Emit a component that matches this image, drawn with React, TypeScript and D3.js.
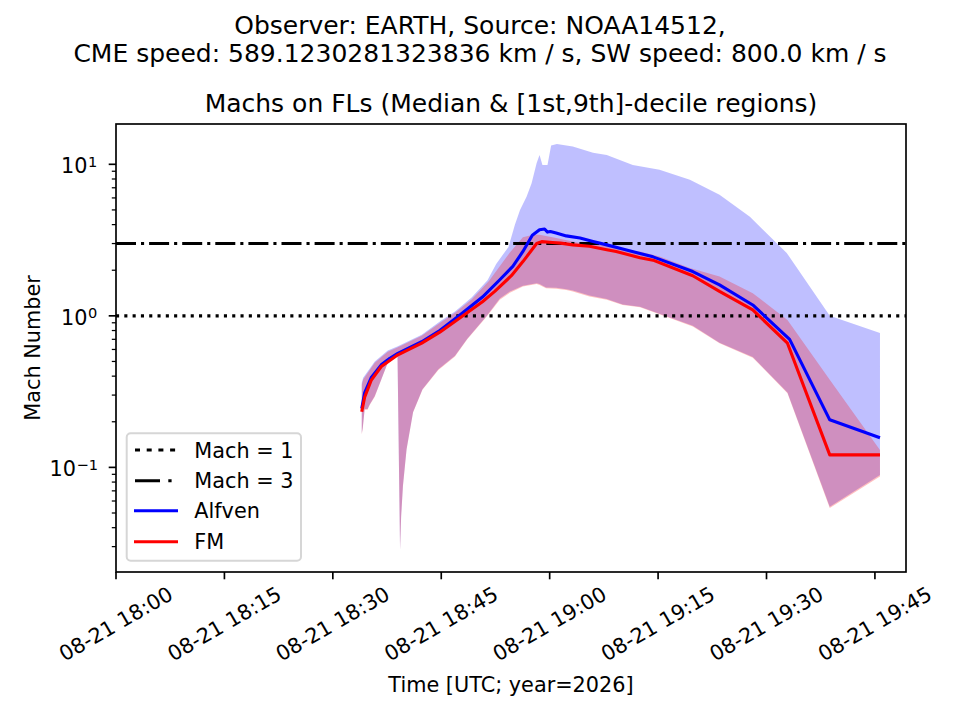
import React from "react";
import * as d3 from "d3";

// ---- data (minutes after 2026-08-21 18:00 UTC) ----
const T0 = Date.UTC(2026, 7, 21, 18, 0, 0);
const xLimitsMin = [0, 109.3];
const yLimits = [0.0204, 18.45];
const machLevels = [1, 3];

const alfvenMedTime = [34.0, 34.4, 35.3, 36.7, 37.9, 39.0, 42.3, 44.8, 47.45, 50.7, 53.1, 54.9, 56.3, 57.6, 58.6, 59.3, 59.7, 60.1, 60.9, 62.3, 64.2, 66.0, 67.9, 70.1, 72.5, 74.3, 79.8, 83.5, 88.1, 93.2, 98.75, 105.7];
const alfvenMed = [0.245, 0.31, 0.39, 0.475, 0.525, 0.565, 0.675, 0.8, 1.0, 1.33, 1.73, 2.12, 2.66, 3.4, 3.7, 3.74, 3.57, 3.6, 3.52, 3.37, 3.26, 3.1, 2.94, 2.76, 2.58, 2.45, 1.96, 1.6, 1.18, 0.7, 0.206, 0.157];

const fmMedTime = [34.0, 34.4, 35.3, 36.7, 39.0, 42.3, 44.8, 48.0, 50.7, 52.4, 54.7, 56.3, 58.2, 58.9, 60.4, 61.5, 63.2, 65.5, 67.9, 69.2, 72.5, 74.3, 79.8, 83.5, 88.1, 92.9, 98.75, 105.7];
const fmMed = [0.233, 0.29, 0.375, 0.463, 0.553, 0.66, 0.78, 1.0, 1.24, 1.45, 1.84, 2.28, 3.0, 3.09, 3.05, 3.02, 2.94, 2.88, 2.73, 2.66, 2.42, 2.33, 1.84, 1.45, 1.095, 0.66, 0.121, 0.121];

const alfvenUpTime = [34.0, 34.2, 35.8, 37.6, 39.0, 42.3, 45.0, 46.9, 49.2, 51.4, 52.6, 54.3, 55.2, 55.9, 56.8, 57.5, 58.2, 58.6, 59.0, 59.7, 60.2, 61.0, 63.2, 66.0, 67.9, 71.5, 75.2, 79.4, 83.5, 87.7, 92.8, 98.75, 105.7];
const alfvenUp = [0.36, 0.39, 0.5, 0.59, 0.63, 0.75, 0.93, 1.07, 1.32, 1.72, 2.2, 2.85, 4.0, 5.0, 6.1, 7.5, 10.2, 11.5, 9.9, 9.9, 13.3, 13.6, 13.1, 11.9, 11.5, 9.9, 9.2, 7.9, 6.3, 4.5, 2.6, 1.0, 0.77];

const fmUpTime = [34.0, 34.2, 35.8, 37.6, 39.0, 42.3, 45.0, 46.9, 49.2, 51.6, 54.5, 56.3, 57.7, 58.6, 60.9, 63.2, 65.5, 67.9, 70.1, 72.5, 75.2, 79.4, 83.5, 88.1, 92.9, 98.75, 105.7];
const fmUp = [0.35, 0.38, 0.49, 0.58, 0.62, 0.74, 0.91, 1.05, 1.28, 1.7, 2.62, 3.3, 3.43, 3.43, 3.26, 3.09, 2.94, 2.94, 2.73, 2.66, 2.46, 2.07, 1.82, 1.41, 0.94, 0.378, 0.13];

const lowTime = [34.0, 34.14, 34.4, 34.8, 35.1, 35.8, 36.7, 37.5, 38.2, 38.95, 39.3, 39.45, 39.7, 40.2, 41.1, 42.4, 44.6, 46.9, 48.6, 51.3, 53.1, 54.5, 56.3, 58.2, 58.6, 59.5, 60.9, 62.3, 63.2, 65.5, 67.9, 70.1, 72.5, 74.8, 79.8, 83.5, 88.1, 92.9, 98.75, 105.7];
const alfvenLow = [0.168, 0.183, 0.243, 0.243, 0.26, 0.296, 0.38, 0.478, 0.528, 0.541, 0.0287, 0.048, 0.076, 0.132, 0.232, 0.328, 0.444, 0.545, 0.705, 1.0, 1.3, 1.45, 1.58, 1.64, 1.62, 1.54, 1.53, 1.5, 1.47, 1.36, 1.29, 1.19, 1.15, 1.05, 0.86, 0.665, 0.535, 0.312, 0.055, 0.089];
const fmLow = [0.165, 0.18, 0.24, 0.24, 0.258, 0.293, 0.378, 0.475, 0.526, 0.539, 0.0285, 0.047, 0.0747, 0.1305, 0.23, 0.325, 0.44, 0.54, 0.7, 0.99, 1.275, 1.42, 1.56, 1.62, 1.6, 1.52, 1.51, 1.48, 1.45, 1.34, 1.275, 1.18, 1.14, 1.04, 0.85, 0.66, 0.53, 0.309, 0.054, 0.087];

const legendLabels = ["Mach = 1", "Mach = 3", "Alfven", "FM"];

const FONT = "DejaVu Sans, Liberation Sans, sans-serif";

export default function App() {
  const W = 960, H = 720;
  const m = { left: 116, top: 124, right: 54, bottom: 148 };
  const iw = W - m.left - m.right;
  const ih = H - m.top - m.bottom;
  const toDate = (v: number) => new Date(T0 + v * 60000);

  const x = d3.scaleUtc().domain([toDate(xLimitsMin[0]), toDate(xLimitsMin[1])]).range([m.left, m.left + iw]);
  const y = d3.scaleLog().domain(yLimits).range([m.top + ih, m.top]);

  const zip = (t: number[], v: number[]) => t.map((tt, i) => [tt, v[i]] as [number, number]);
  const line = d3.line<[number, number]>().x((d) => x(toDate(d[0]))).y((d) => y(d[1]));
  const band = (tu: number[], vu: number[], tl: number[], vl: number[]) =>
    (line([...zip(tu, vu), ...zip(tl, vl).reverse()]) || "") + "Z";

  const xTicks = x.ticks(d3.utcMinute.every(15) as any);
  const fmt = d3.utcFormat("%m-%d %H:%M");
  const yAll = y.ticks();
  const isMajor = (v: number) => Math.abs(Math.log10(v) - Math.round(Math.log10(v))) < 1e-9;
  const yMajor = yAll.filter(isMajor);
  const yMinor = yAll.filter((v) => !isMajor(v));

  const lw = 3.1;
  const legY = [450, 480.7, 510.7, 541.7];

  return (
    <svg width={W} height={H} style={{ position: "absolute", left: 0, top: 0, background: "#fff" }} fontFamily={FONT}>
      <defs>
        <clipPath id="plotclip">
          <rect x={m.left} y={m.top} width={iw} height={ih} />
        </clipPath>
      </defs>
      <rect x={0} y={0} width={W} height={H} fill="#fff" />

      {/* titles */}
      <text x={480} y={33.5} textAnchor="middle" fontSize={25}>Observer: EARTH, Source: NOAA14512,</text>
      <text x={480} y={62} textAnchor="middle" fontSize={25}>CME speed: 589.1230281323836 km / s, SW speed: 800.0 km / s</text>
      <text x={m.left + iw / 2} y={112} textAnchor="middle" fontSize={25}>Machs on FLs (Median &amp; [1st,9th]-decile regions)</text>

      <g clipPath="url(#plotclip)">
        <path d={band(alfvenUpTime, alfvenUp, lowTime, alfvenLow)} fill="blue" fillOpacity={0.25} stroke="none" />
        <path d={band(fmUpTime, fmUp, lowTime, fmLow)} fill="red" fillOpacity={0.25} stroke="none" />
        {/* Mach reference lines */}
        <line x1={m.left} x2={m.left + iw} y1={y(machLevels[0])} y2={y(machLevels[0])} stroke="#000" strokeWidth={lw} strokeDasharray="3.1,5.2" />
        <line x1={m.left} x2={m.left + iw} y1={y(machLevels[1])} y2={y(machLevels[1])} stroke="#000" strokeWidth={lw} strokeDasharray="20,5,3.1,5" />
        <path d={line(zip(alfvenMedTime, alfvenMed)) || ""} fill="none" stroke="blue" strokeWidth={lw} strokeLinejoin="round" />
        <path d={line(zip(fmMedTime, fmMed)) || ""} fill="none" stroke="red" strokeWidth={lw} strokeLinejoin="round" />
      </g>

      {/* axes frame */}
      <rect x={m.left} y={m.top} width={iw} height={ih} fill="none" stroke="#000" strokeWidth={1.67} />

      {/* x ticks */}
      {xTicks.map((t, i) => (
        <g key={"xt" + i}>
          <line x1={x(t)} x2={x(t)} y1={m.top + ih} y2={m.top + ih + 7.3} stroke="#000" strokeWidth={1.67} />
          <text transform={`translate(${x(t)},${624}) rotate(-30)`} textAnchor="middle" dominantBaseline="central" fontSize={20.8}>
            {fmt(t)}
          </text>
        </g>
      ))}

      {/* y ticks */}
      {yMinor.map((v, i) => (
        <line key={"ym" + i} x1={m.left - 4.2} x2={m.left} y1={y(v)} y2={y(v)} stroke="#000" strokeWidth={1.25} />
      ))}
      {yMajor.map((v, i) => {
        const e = Math.round(Math.log10(v));
        const baseEnd = e < 0 ? 76 : 87.5;
        const yy = y(v);
        return (
          <g key={"yM" + i}>
            <line x1={m.left - 7.3} x2={m.left} y1={yy} y2={yy} stroke="#000" strokeWidth={1.67} />
            <text x={baseEnd} y={yy + 9} textAnchor="end" fontSize={20.8}>10</text>
            <text x={baseEnd + 0.5} y={yy + 2.5} textAnchor="start" fontSize={14.6}>{e < 0 ? "\u2212" + Math.abs(e) : String(e)}</text>
          </g>
        );
      })}

      {/* axis labels */}
      <text x={m.left + iw / 2} y={692} textAnchor="middle" fontSize={20.8}>Time [UTC; year=2026]</text>
      <text transform={`translate(40,${m.top + ih / 2}) rotate(-90)`} textAnchor="middle" fontSize={20.8}>Mach Number</text>

      {/* legend */}
      <g>
        <rect x={126.7} y={433.3} width={174.3} height={127.4} rx={4} ry={4} fill="#fff" fillOpacity={0.8} stroke="#d6d6d6" strokeWidth={2} />
        <line x1={135} x2={178} y1={legY[0]} y2={legY[0]} stroke="#000" strokeWidth={lw} strokeDasharray="5,6.7" />
        <line x1={135} x2={178} y1={legY[1]} y2={legY[1]} stroke="#000" strokeWidth={lw} strokeDasharray="25,8.3,3.3,8.3" />
        <line x1={134} x2={178} y1={legY[2]} y2={legY[2]} stroke="blue" strokeWidth={lw} />
        <line x1={134} x2={178} y1={legY[3]} y2={legY[3]} stroke="red" strokeWidth={lw} />
        {legendLabels.map((l, i) => (
          <text key={"lg" + i} x={194.3} y={legY[i] + 7.5} fontSize={20.8}>{l}</text>
        ))}
      </g>
    </svg>
  );
}
